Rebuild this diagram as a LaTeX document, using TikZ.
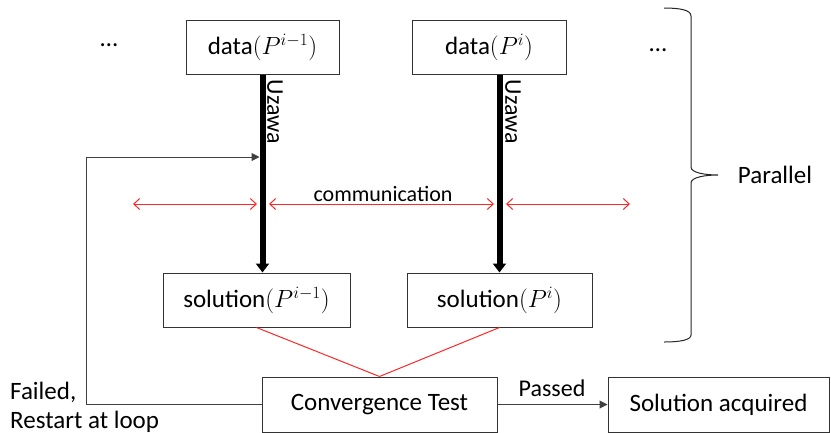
\documentclass[tikz,border=0pt]{standalone}
\usepackage{fontspec}
\setmainfont{Carlito}
\usetikzlibrary{arrows.meta}
\begin{document}
\begin{tikzpicture}[x=1pt,y=-1pt,
  every node/.style={font=\fontsize{25}{29}\selectfont},
  box/.style={draw=black!80, line width=1pt, inner sep=0pt},
  uzawaline/.style={line width=6pt, -{Triangle[length=9pt,width=13pt]}},
  commarrow/.style={red!85!white, line width=1pt, {Straight Barb[length=6pt,width=11pt]}-{Straight Barb[length=6pt,width=11pt]}},
  redline/.style={red!85!white, line width=1pt},
  fb/.style={black!75, line width=1pt, -{Triangle[length=8pt,width=8pt]}},
  smalltext/.style={font=\fontsize{22}{26}\selectfont}]
\useasboundingbox (0,0) rectangle (831,432);

% boxes
\node[box, minimum width=153pt, minimum height=54pt] (d1) at (262.5,47) {data$(P^{i-1})$};
\node[box, minimum width=154pt, minimum height=54pt] (d2) at (489,47) {data$(P^{i})$};
\node[box, minimum width=187pt, minimum height=54pt] (s1) at (256.5,300) {solution$(P^{i-1})$};
\node[box, minimum width=185pt, minimum height=54pt] (s2) at (499.5,300) {solution$(P^{i})$};
\node[box, minimum width=235pt, minimum height=55pt] (conv) at (379.5,404.5) {Convergence Test};
\node[box, minimum width=221pt, minimum height=55pt] (sol) at (718.5,404.5) {Solution acquired};

% dots
\node (dl) at (109,45) {…};
\node (dr) at (658,50) {…};

% Uzawa lines
\draw[uzawaline] (d1.south) -- (d1.south |- s1.north);
\draw[uzawaline] (d2.south -| s2.north) -- (s2.north);
\node[rotate=-90, font=\fontsize{24}{28}\selectfont] (uz1) at (275,112) {Uzawa};
\node[rotate=-90, font=\fontsize{24}{28}\selectfont] (uz2) at (513,112) {Uzawa};

% communication arrows
\coordinate (c1) at (133,204);
\coordinate (c2) at (257,204);
\coordinate (c3) at (269,204);
\coordinate (c4) at (494,204);
\coordinate (c5) at (506,204);
\coordinate (c6) at (630,204);
\draw[commarrow] (c1) -- (c2);
\draw[commarrow] (c3) -- (c4);
\draw[commarrow] (c5) -- (c6);
\node[smalltext] (comm) at (383,194) {communication};

% convergence lines
\draw[redline] (s1.south) -- (conv.north);
\draw[redline] (s2.south) -- (conv.north);

% feedback loop
\coordinate (fbc) at (86,157);
\draw[fb] (conv.west) -| (fbc) -- ([xshift=-3pt]fbc -| d1.south);
\node[anchor=west, align=left, inner sep=0pt] (fail) at (10,407.5) {Failed,\\Restart at loop};

% passed
\draw[fb] (conv.east) -- (sol.west);
\node[font=\fontsize{24}{28}\selectfont] (pass) at (552,388) {Passed};

% brace
\draw[black!85, line width=1pt] (664,8) .. controls (680,8) and (691,10) .. (691,16)
  -- (691,167) .. controls (691,173) and (706,175) .. (718,175)
  .. controls (706,175) and (691,177) .. (691,183)
  -- (691,335) .. controls (691,340) and (680,342) .. (664,342);
\node (par) at (775,175) {Parallel};
\end{tikzpicture}
\end{document}
